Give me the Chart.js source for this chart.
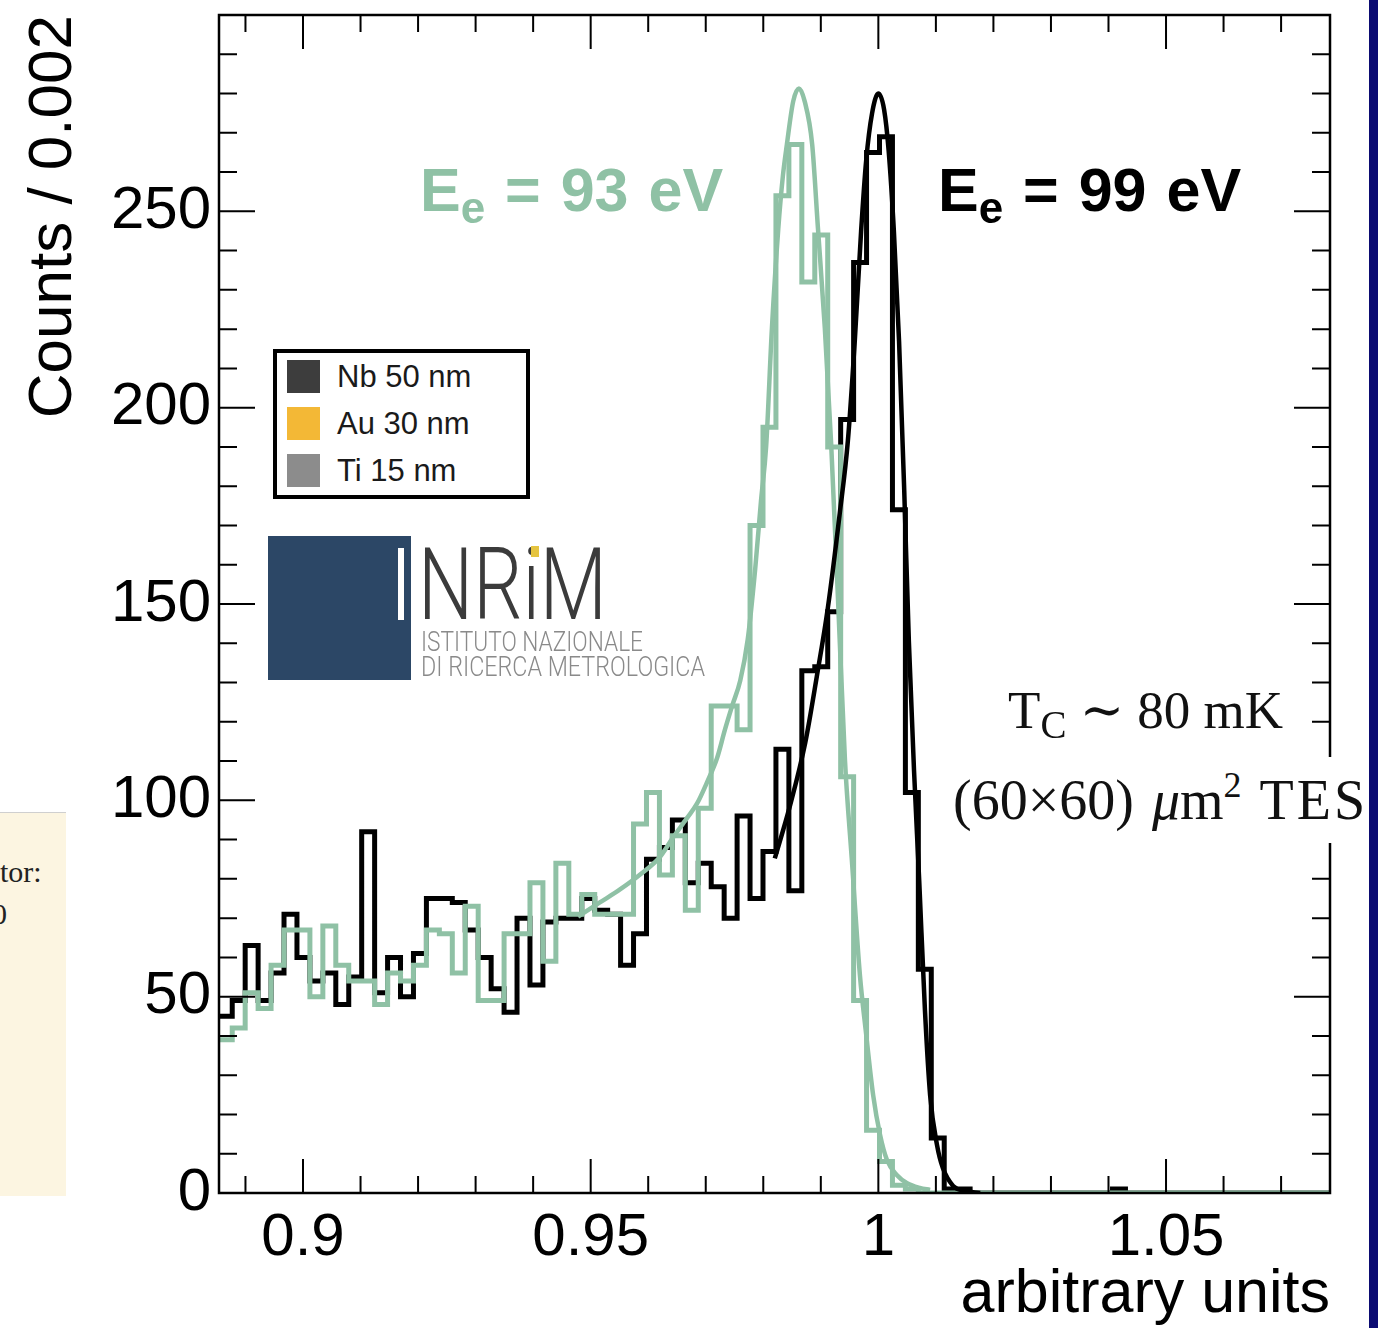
<!DOCTYPE html>
<html>
<head>
<meta charset="utf-8">
<title>TES spectrum</title>
<script src="https://cdn.jsdelivr.net/npm/chart.js@4.4.1/dist/chart.umd.min.js"></script>
<style>
  html, body { margin: 0; padding: 0; background: #fff; }
  #page { position: relative; width: 1378px; height: 1328px; overflow: hidden; background: #fff; }
  #spectrum { position: absolute; left: 0; top: 0; }
  .note { position: absolute; white-space: nowrap; }
  .energy { font: bold 61px "Liberation Sans", Arial, sans-serif; line-height: 60px; word-spacing: 3px; }
  .energy .sub { font-size: 44px; position: relative; top: 12px; }
  .serif { font-family: "Liberation Serif", "DejaVu Serif", serif; color: #111; }
  #tc { left: 1008px; top: 680px; font-size: 53px; line-height: 60px; }
  #tc .sub { font-size: 39px; position: relative; top: 10px; }
  #tes { left: 948px; top: 757px; width: 417px; height: 86px; padding-left: 5px; background: #fff;
         font-size: 56px; line-height: 86px; word-spacing: 4px; }
  #tes sup { font-size: 36px; vertical-align: baseline; position: relative; top: -22px; }
  #tes .tes { letter-spacing: 3px; }
  #stack { position: absolute; left: 273px; top: 349px; width: 257px; height: 150px; box-sizing: border-box;
           border: 4px solid #000; background: #fff; font: 31px "Liberation Sans", Arial, sans-serif; color: #1a1a1a; }
  #stack .sw { position: absolute; left: 10px; width: 33px; height: 33px; }
  #stack .lb { position: absolute; left: 60px; line-height: 33px; }
  #logoSq { position: absolute; left: 268px; top: 536px; width: 143px; height: 144px; background: #2c4766; }
  #logoBar { position: absolute; left: 398px; top: 548px; width: 6px; height: 72px; background: #fff; }
  #logoName { position: absolute; left: 418px; top: 535px; font: 300 101px Roboto, "Liberation Sans", sans-serif;
              line-height: 100px; color: #3b3b3b; transform-origin: 0 0; white-space: nowrap; }
  #logoDot { position: absolute; left: 531px; top: 546px; width: 8px; height: 11px; background: #e5c440; }
  .logoTxt { position: absolute; left: 421px; font: 300 28px Roboto, "Liberation Sans", sans-serif;
             line-height: 28px; color: #8a8a8a; transform-origin: 0 0; white-space: nowrap; }
  #side { position: absolute; left: 0; top: 812px; width: 66px; height: 383px; background: #fcf5e1;
          border-top: 1px solid #cfcfcf; overflow: hidden; font: 30px "Liberation Serif", serif; color: #222; }
  #edge { position: absolute; left: 1369px; top: 0; width: 9px; height: 1328px; background: #0b0b72; }
</style>
</head>
<body>
<div id="page">
  <canvas id="spectrum" width="1378" height="1328"></canvas>

  <div class="note energy" style="left:420px;top:160px;color:#8fc1a5">E<span class="sub">e</span> = 93 eV</div>
  <div class="note energy" style="left:938px;top:160px;color:#000">E<span class="sub">e</span> = 99 eV</div>

  <div id="stack">
    <div class="sw" style="top:7px;background:#3d3d3d"></div><div class="lb" style="top:7px">Nb 50 nm</div>
    <div class="sw" style="top:54px;background:#f3b836"></div><div class="lb" style="top:54px">Au 30 nm</div>
    <div class="sw" style="top:101px;background:#8c8c8c"></div><div class="lb" style="top:101px">Ti 15 nm</div>
  </div>

  <div id="logoSq"></div>
  <div id="logoBar"></div>
  <div id="logoName">NRiM</div>
  <div id="logoDot"></div>
  <div class="logoTxt" id="logoL1" style="top:628px">ISTITUTO NAZIONALE</div>
  <div class="logoTxt" id="logoL2" style="top:653px">DI RICERCA METROLOGICA</div>

  <div id="tc" class="note serif">T<span class="sub">C</span> &#8764; 80 mK</div>
  <div id="tes" class="note serif">(60&#215;60) <i>&#956;</i>m<sup>2</sup> <span class="tes">TES</span></div>

  <div id="side">
    <div style="position:absolute;left:0;top:42px">tor:</div>
    <div style="position:absolute;left:-8px;top:84px">0</div>
  </div>
  <div id="edge"></div>
</div>

<script>
// binning of both spectra (axis units)
const BIN_START = 0.88545;
const BIN_WIDTH = 0.00225;

// Ee = 99 eV (black) counts per bin
const countsE99 = [
  45, 49, 63, 49, 56, 71, 60, 54, 56, 48,
  55, 92, 51, 60, 50, 61, 75, 75, 74, 67,
  60, 52, 46, 70, 53, 69, 70, 70, 75, 72,
  71, 58, 66, 85, 88, 95, 79, 84, 78, 70,
  96, 75, 87, 113, 77, 133, 134, 148, 197, 237,
  265, 269, 174, 102, 57, 14, 1, 1, 0, 0,
  0, 0, 0, 0, 0, 0, 0, 0, 0, 1,
  0, 0, 0, 0, 0, 0, 0, 0, 0, 0,
  0, 0, 0, 0, 0, 0
];

// Ee = 93 eV (green) counts per bin
const countsE93 = [
  39, 42, 51, 47, 58, 67, 67, 50, 68, 58,
  54, 54, 48, 56, 54, 58, 67, 66, 56, 73,
  49, 49, 66, 66, 79, 59, 84, 71, 76, 71,
  71, 71, 94, 102, 81, 91, 72, 98, 124, 124,
  118, 170, 195, 254, 267, 232, 244, 190, 106, 49,
  16, 8, 2, 1, 0, 0, 0, 0, 0, 0,
  0, 0, 0, 0, 0, 0, 0, 0, 0, 0,
  0, 0, 0, 0, 0, 0, 0, 0, 0, 0,
  0, 0, 0, 0, 0, 0
];

// fitted curves
const fitE99X = [0.9820, 0.9846, 0.9873, 0.9893, 0.9912, 0.9933, 0.9947, 0.9959, 0.9970, 0.9979,
                 0.9989, 1.0000, 1.0010, 1.0018, 1.0027, 1.0036, 1.0045, 1.0053, 1.0062, 1.0071,
                 1.0081, 1.0090, 1.0102, 1.0112, 1.0130, 1.0151, 1.0177];
const fitE99Y = [85.2, 98.4, 114.7, 131.5, 148.8, 173.2, 191.5, 216.9, 244.9, 263.2,
                 274.9, 280.0, 275.9, 265.3, 244.9, 216.9, 178.8, 140.6, 107.6, 79.6,
                 46.5, 24.9, 12.2, 6.4, 1.8, 0.5, 0];

const fitE93X = [0.9478, 0.9516, 0.9551, 0.9586, 0.9620, 0.9643, 0.9667, 0.9685, 0.9702, 0.9720,
                 0.9733, 0.9746, 0.9760, 0.9773, 0.9786, 0.9796, 0.9805, 0.9815, 0.9826, 0.9834,
                 0.9841, 0.9852, 0.9862, 0.9872, 0.9885, 0.9895, 0.9907, 0.9918, 0.9930, 0.9942,
                 0.9954, 0.9968, 0.9978, 0.9991, 1.0003, 1.0015, 1.0032, 1.0050, 1.0072, 1.0090];
const fitE93Y = [70.4, 74.0, 77.3, 81.1, 85.5, 90.5, 95.4, 99.2, 104.5, 110.9,
                 117.8, 124.1, 130.5, 141.0, 159.0, 176.2, 190.2, 220.2, 245.4, 258.9,
                 267.0, 278.0, 281.3, 278.0, 267.0, 245.7, 220.2, 190.7, 150.8, 110.1,
                 84.7, 55.4, 41.5, 24.9, 14.8, 8.4, 4.6, 2.5, 1.3, 0.8];

// axis labels
const xTickValues = [0.9, 0.95, 1, 1.05];
const xTickLabels = ['0.9', '0.95', '1', '1.05'];
const yTickValues = [0, 50, 100, 150, 200, 250];

const GREEN = '#8fc1a5';

function histPoints(counts) {
  const pts = counts.map((c, i) => ({ x: BIN_START + i * BIN_WIDTH, y: c }));
  pts.push({ x: BIN_START + counts.length * BIN_WIDTH, y: counts[counts.length - 1] });
  return pts;
}
function curvePoints(xs, ys) {
  return xs.map((x, i) => ({ x: x, y: ys[i] }));
}

// ROOT-like frame with inward ticks on all four sides
const rootFrame = {
  id: 'rootFrame',
  afterDatasetsDraw(chart) {
    const { ctx, chartArea: a, scales: { x, y } } = chart;
    ctx.save();
    ctx.strokeStyle = '#000';
    ctx.lineWidth = 2;
    ctx.beginPath();
    for (let k = 89; k <= 107; k++) {
      const px = x.getPixelForValue(k / 100);
      const len = (k % 5 === 0) ? 34 : 17;
      ctx.moveTo(px, a.bottom); ctx.lineTo(px, a.bottom - len);
      ctx.moveTo(px, a.top); ctx.lineTo(px, a.top + len);
    }
    for (let k = 1; k < 30; k++) {
      const py = y.getPixelForValue(k * 10);
      const len = (k % 5 === 0) ? 36 : 18;
      ctx.moveTo(a.left, py); ctx.lineTo(a.left + len, py);
      ctx.moveTo(a.right, py); ctx.lineTo(a.right - len, py);
    }
    ctx.stroke();
    ctx.lineWidth = 2.5;
    ctx.strokeRect(a.left, a.top, a.right - a.left, a.bottom - a.top);
    ctx.restore();
  }
};

new Chart(document.getElementById('spectrum'), {
  type: 'line',
  data: {
    datasets: [
      { data: curvePoints(fitE99X, fitE99Y), borderColor: '#000', borderWidth: 4.5,
        cubicInterpolationMode: 'monotone', pointRadius: 0, order: 1 },
      { data: curvePoints(fitE93X, fitE93Y), borderColor: GREEN, borderWidth: 4.5,
        cubicInterpolationMode: 'monotone', pointRadius: 0, order: 2 },
      { data: histPoints(countsE93), borderColor: GREEN, borderWidth: 5, stepped: true,
        borderJoinStyle: 'miter', pointRadius: 0, order: 3 },
      { data: histPoints(countsE99), borderColor: '#000', borderWidth: 5, stepped: true,
        borderJoinStyle: 'miter', pointRadius: 0, order: 4 }
    ]
  },
  options: {
    responsive: false,
    animation: false,
    devicePixelRatio: 1,
    layout: { padding: { top: 15, right: 48, left: 0, bottom: 0 } },
    plugins: { legend: { display: false }, tooltip: { enabled: false } },
    scales: {
      x: {
        type: 'linear', min: 0.8854, max: 1.0785,
        afterFit: (s) => { s.height = 135; s.paddingLeft = 0; s.paddingRight = 0; },
        afterBuildTicks: (s) => { s.ticks = xTickValues.map(v => ({ value: v })); },
        grid: { display: false, drawTicks: false },
        border: { display: false },
        ticks: {
          callback: (v, i) => xTickLabels[i],
          font: { family: 'Liberation Sans', size: 60, lineHeight: 1.2 },
          color: '#000', padding: 9, maxRotation: 0, autoSkip: false
        },
        title: {
          display: true, text: 'arbitrary units', align: 'end', color: '#000',
          font: { family: 'Liberation Sans', size: 61, lineHeight: 1 },
          padding: { top: 0, bottom: 2 }
        }
      },
      y: {
        type: 'linear', min: 0, max: 300,
        afterFit: (s) => { s.width = 219; s.paddingTop = 0; s.paddingBottom = 0; },
        afterBuildTicks: (s) => { s.ticks = yTickValues.map(v => ({ value: v })); },
        grid: { display: false, drawTicks: false },
        border: { display: false },
        ticks: {
          callback: (v) => String(v),
          font: { family: 'Liberation Sans', size: 60, lineHeight: 1.2 },
          color: '#000', padding: 8
        },
        title: {
          display: true, text: 'Counts / 0.002', align: 'end', color: '#000',
          font: { family: 'Liberation Sans', size: 62, lineHeight: 1 },
          padding: { top: 23, bottom: 0 }
        }
      }
    }
  },
  plugins: [rootFrame]
});

// squeeze logo lettering to the width it has in the picture
function fitWidth(id, target) {
  const el = document.getElementById(id);
  const w = el.getBoundingClientRect().width;
  if (w > 0) el.style.transform = 'scaleX(' + (target / w) + ')';
}
fitWidth('logoName', 189);
fitWidth('logoL1', 222);
fitWidth('logoL2', 284);
</script>
</body>
</html>
